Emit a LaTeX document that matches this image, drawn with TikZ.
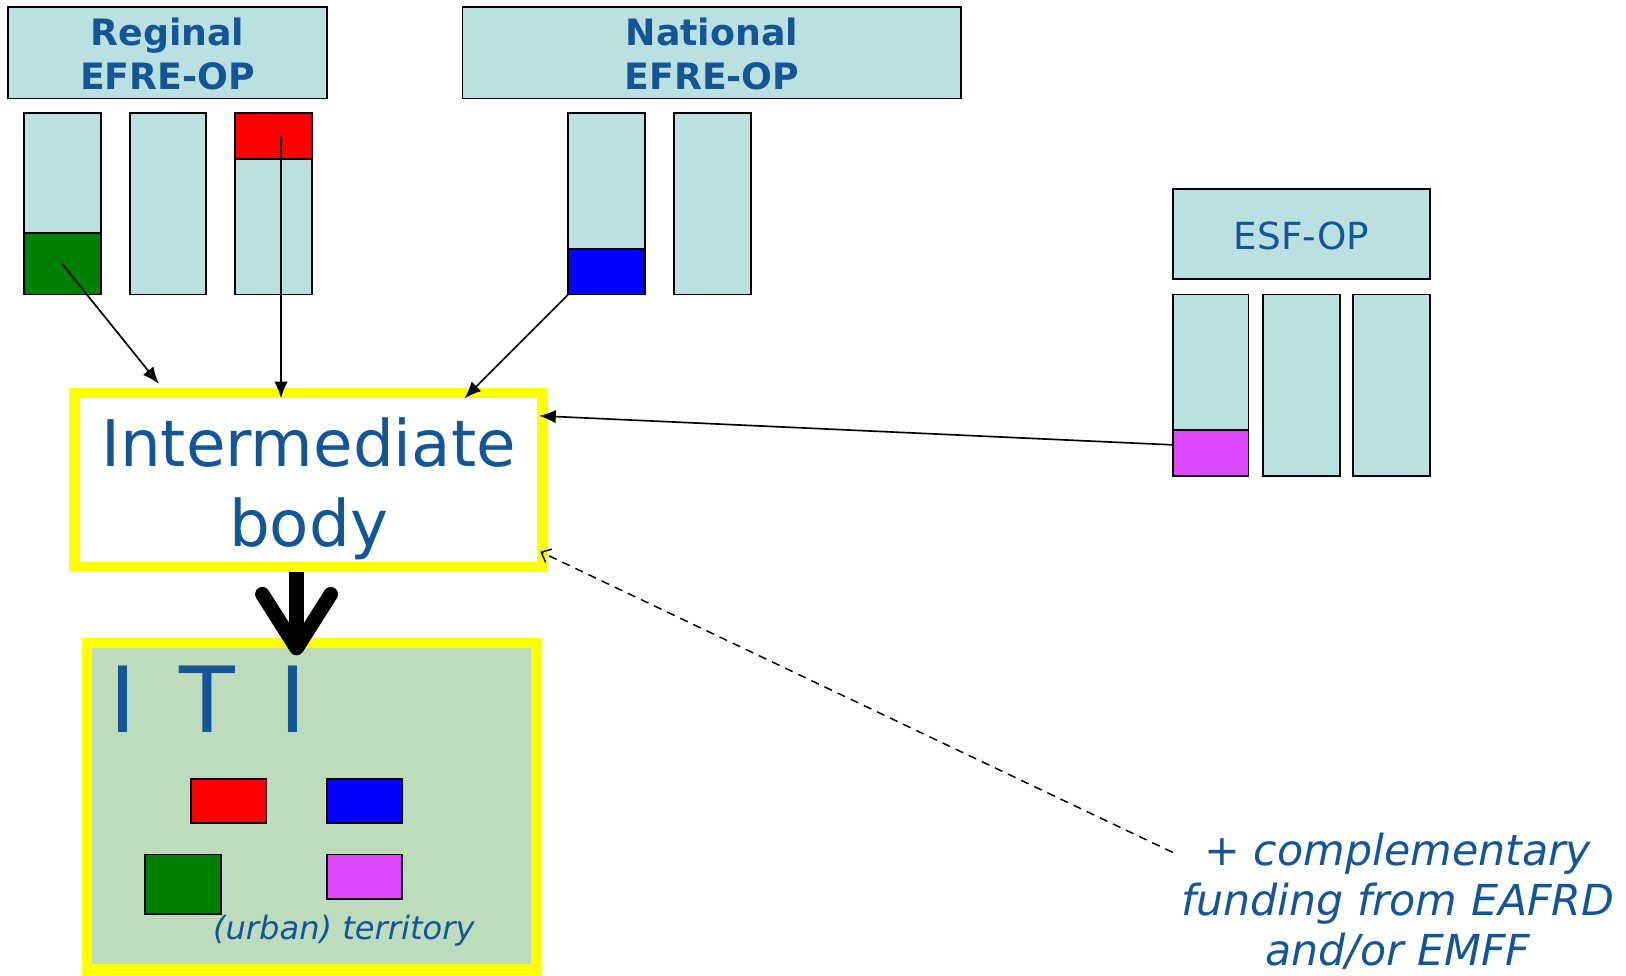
\documentclass[tikz,border=0pt]{standalone}
\usepackage{fontspec}
\setmainfont{DejaVu Sans}
\usetikzlibrary{arrows.meta}
\definecolor{txtblue}{RGB}{20,85,150}
\definecolor{cyanfill}{RGB}{187,224,226}
\definecolor{itifill}{RGB}{189,220,189}
\definecolor{dkgreen}{RGB}{0,128,0}
\definecolor{purp}{RGB}{221,72,255}
\definecolor{yel}{RGB}{255,255,0}
\begin{document}
\begin{tikzpicture}[x=0.5pt,y=-0.5pt,
  opbox/.style={draw=black, line width=0.9pt, fill=cyanfill, inner sep=0pt, outer sep=0pt, anchor=north west},
  colbox/.style={opbox, minimum width=37pt, minimum height=87.5pt},
  hdrtext/.style={text=txtblue, font=\fontsize{17.5}{21}\selectfont\bfseries, align=center},
  yelbox/.style={draw=yel, line width=5pt},
  arr/.style={line width=0.8pt, -{Latex[length=8pt,width=6.5pt]}},
  darr/.style={line width=0.7pt, dashed, dash pattern=on 4pt off 3pt, -{Straight Barb[length=4pt,width=7pt]}},
  bigarr/.style={line width=7pt, -{Straight Barb[length=26pt 0,width=33pt 0,round]}}
]
\useasboundingbox (0,0) rectangle (1568,941);

% headers
\node[opbox, minimum width=153.5pt, minimum height=44pt] (hR) at (8,7) {};
\node[hdrtext] (tR) at ([yshift=-0.5pt]hR.center) {Reginal\\EFRE-OP};
\node[opbox, minimum width=240.5pt, minimum height=44pt] (hN) at (446,7) {};
\node[hdrtext] (tN) at ([yshift=-0.5pt]hN.center) {National\\EFRE-OP};
\node[opbox, minimum width=124pt, minimum height=43.5pt] (hE) at (1131,182) {};
\node[text=txtblue, font=\fontsize{18}{21}\selectfont] (tE) at ([yshift=-1pt]hE.center) {ESF-OP};

% regional columns
\node[colbox] (cR1) at (23,109) {};
\node[colbox] (cR2) at (125,109) {};
\node[colbox] (cR3) at (227,109) {};
\node[opbox, fill=dkgreen, minimum width=37pt, minimum height=29.5pt] (gR) at (23,225) {};
\node[opbox, fill=red, minimum width=37pt, minimum height=22pt] (rR) at (227,109) {};

% national columns
\node[colbox] (cN1) at (548,109) {};
\node[colbox] (cN2) at (650,109) {};
\node[opbox, fill=blue, minimum width=37pt, minimum height=22pt] (bN) at (548,240) {};

% ESF columns
\node[colbox, minimum width=36.5pt] (cE1) at (1131,284) {};
\node[colbox] (cE2) at (1218,284) {};
\node[colbox] (cE3) at (1305,284) {};
\node[opbox, fill=purp, minimum width=36.5pt, minimum height=22pt] (mE) at (1131,415) {};

% intermediate body
\node[yelbox, fill=white, minimum width=225.5pt, minimum height=84pt, inner sep=0pt] (ib) at (297.5,463) {};
\node[text=txtblue, font=\fontsize{31}{38.5}\selectfont, align=center, inner sep=0pt] (ibt) at ([yshift=-4pt]ib.center) {Intermediate\\body};

% ITI box
\node[yelbox, fill=itifill, minimum width=216.5pt, minimum height=157.5pt] (iti) at (300.5,777.5) {};
\node[text=txtblue, font=\fontsize{44}{50}\selectfont, inner sep=0pt, anchor=base west] (itit) at (105,706) {I\hskip 21pt T\hskip 21pt I};
\node[opbox, fill=red, minimum width=36.5pt, minimum height=21.5pt] (iR) at (184,751) {};
\node[opbox, fill=blue, minimum width=36.5pt, minimum height=21.5pt] (iB) at (315,751) {};
\node[opbox, fill=dkgreen, minimum width=36.5pt, minimum height=28.5pt] (iG) at (140,824) {};
\node[opbox, fill=purp, minimum width=36.5pt, minimum height=21.5pt] (iM) at (315,824) {};
\node[text=txtblue, font=\fontsize{15.5}{18}\selectfont\itshape, inner sep=0pt, anchor=west] (urb) at (205,897) {(urban)\ territory};

% complementary text
\node[text=txtblue, font=\fontsize{20.6}{24}\selectfont\itshape, align=center, inner sep=0pt] (comp) at (1348,869) {+ complementary\\funding from EAFRD\\and/or EMFF};

% connector end points
\coordinate (e1) at (153,370);
\coordinate (e2) at (271,384);
\coordinate (e3) at (448,384);
\coordinate (e4) at (520,401);
\coordinate (e5) at (521,532);
\coordinate (d0) at (1131,822);
\coordinate (bigS) at (286,552);
\coordinate (bigT) at (286,632);

\draw[arr] (gR.center) -- (e1);
\draw[arr] (rR.center -| e2) -- (e2);
\draw[arr] (bN.south west) -- (e3);
\draw[arr] ([yshift=4pt]mE.west) -- (e4);
\draw[darr] (d0) -- (e5);
\draw[bigarr] (bigS) -- (bigT);
\end{tikzpicture}
\end{document}
